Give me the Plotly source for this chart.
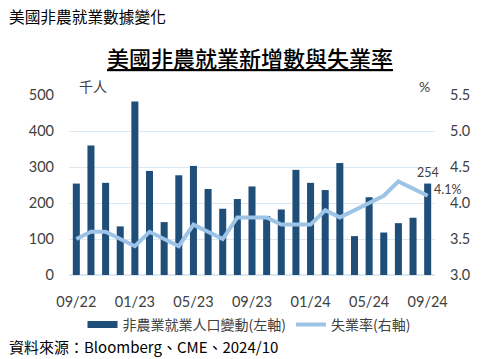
import plotly.graph_objects as go

months = ["09/22","10/22","11/22","12/22","01/23","02/23","03/23","04/23","05/23","06/23",
          "07/23","08/23","09/23","10/23","11/23","12/23","01/24","02/24","03/24","04/24",
          "05/24","06/24","07/24","08/24","09/24"]
payrolls = [254, 360, 256, 135, 482, 289, 147, 277, 303, 239,
            184, 211, 246, 164, 182, 292, 256, 236, 311, 108,
            216, 118, 144, 159, 254]
unemployment = [3.5, 3.6, 3.6, 3.5, 3.4, 3.6, 3.5, 3.4, 3.7, 3.6,
                3.5, 3.8, 3.8, 3.8, 3.7, 3.7, 3.7, 3.9, 3.8, 3.9,
                4.0, 4.1, 4.3, 4.2, 4.1]
xtick_labels = ["09/22","01/23","05/23","09/23","01/24","05/24","09/24"]
left_ticks = [0, 100, 200, 300, 400, 500]
right_ticks = [3.0, 3.5, 4.0, 4.5, 5.0, 5.5]

FONT = "Lato, 'Noto Sans CJK TC', sans-serif"
CJK = "'Noto Sans CJK TC', sans-serif"
TXT = "#404040"
GRID = "#dbe8f1"
BAR = "#1f4e79"
LINE = "#9dc3e6"

# plot area in page pixels: x 69..435, y 95..275
W, H = 366, 180
def px(x):
    return (x - 69) / W
def py(y):
    return 1 + (95 - y) / H

fig = go.Figure()
fig.add_trace(go.Bar(x=months, y=payrolls, name="非農業就業人口變動(左軸)",
                     marker=dict(color=BAR, line_width=0), yaxis="y", showlegend=False))
fig.add_trace(go.Scatter(x=[None], y=[None], name="非農業就業人口變動(左軸)", mode="lines",
                         line=dict(color=BAR, width=7), yaxis="y", showlegend=True))
fig.add_trace(go.Scatter(x=months, y=unemployment, name="失業率(右軸)", mode="lines",
                         line=dict(color=LINE, width=4), yaxis="y2"))

fig.update_layout(
    width=493, height=359, autosize=False,
    margin=dict(l=69, r=58, t=95, b=84, autoexpand=False),
    paper_bgcolor="white", plot_bgcolor="white",
    bargap=0.52,
    font=dict(family=FONT, color=TXT, size=15),
    showlegend=True,
    legend=dict(orientation="h", x=px(249), xanchor="center", y=py(309), yanchor="top",
                font=dict(family=CJK, size=14, color=TXT), itemwidth=30,
                tracegroupgap=0, bgcolor="rgba(0,0,0,0)"),
    xaxis=dict(type="category", range=[-0.5, len(months) - 0.5], autorange=False,
               tickmode="array", tickvals=xtick_labels, ticktext=xtick_labels,
               showgrid=False, showline=False, ticks="", ticklabelstandoff=16,
               tickfont=dict(size=14.5, family=FONT, color=TXT), fixedrange=True),
    yaxis=dict(range=[0, 500], autorange=False, tickvals=left_ticks, showgrid=True,
               gridcolor=GRID, gridwidth=1,
               zeroline=True, zerolinecolor=GRID, ticks="", ticklabelstandoff=14,
               tickfont=dict(size=14.5, family=FONT, color=TXT), showline=False),
    yaxis2=dict(range=[3.0, 5.5], autorange=False, tickvals=right_ticks, tickformat=".1f",
                overlaying="y", side="right",
                showgrid=False, zeroline=False, ticks="", ticklabelstandoff=14,
                tickfont=dict(size=14.5, family=FONT, color=TXT), showline=False),
)

annotations = [
    dict(text="美國非農就業數據變化", xref="paper", yref="paper", x=px(7), y=py(16),
         xanchor="left", yanchor="middle", showarrow=False,
         font=dict(family=CJK, size=15.7, color="#000000")),
    dict(text="<u>美國非農就業新增數與失業率</u>", xref="paper", yref="paper",
         x=px(250), y=py(57), xanchor="center", yanchor="middle", showarrow=False,
         font=dict(family=CJK, size=22, color="#000000", weight=500)),
    dict(text="千人", xref="paper", yref="paper", x=px(77), y=py(86),
         xanchor="left", yanchor="middle", showarrow=False,
         font=dict(family=CJK, size=14, color=TXT)),
    dict(text="%", xref="paper", yref="paper", x=px(424), y=py(86),
         xanchor="center", yanchor="middle", showarrow=False,
         font=dict(family=FONT, size=14, color=TXT)),
    dict(text=str(payrolls[-1]), xref="x", yref="y", x=months[-1], y=payrolls[-1],
         yanchor="bottom", yshift=2, showarrow=False,
         font=dict(family=FONT, size=12.5, color=TXT)),
    dict(text=f"{unemployment[-1]:.1f}%", xref="x", yref="y2", x=months[-1], y=unemployment[-1],
         xanchor="left", yanchor="middle", xshift=4, yshift=6, showarrow=False,
         font=dict(family=FONT, size=12.5, color=TXT)),
    dict(text="資料來源：Bloomberg、CME、2024/10", xref="paper", yref="paper",
         x=px(7), y=py(346), xanchor="left", yanchor="middle", showarrow=False,
         font=dict(family=CJK, size=15, color="#000000")),
]
fig.update_layout(annotations=annotations)

fig.write_html("out.html", config={"displayModeBar": False},
               post_script="document.body.style.margin='0';document.body.style.overflow='hidden';")
